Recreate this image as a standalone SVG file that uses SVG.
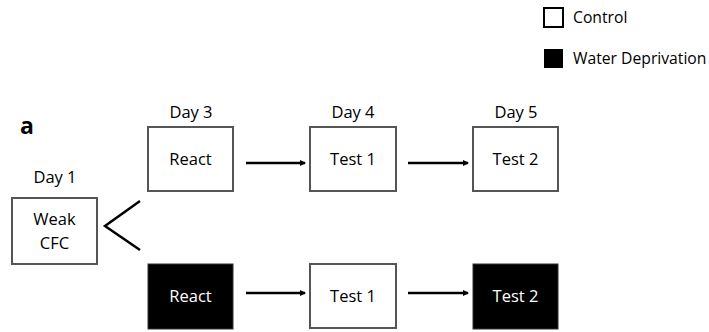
<svg xmlns="http://www.w3.org/2000/svg" width="709" height="332" viewBox="0 0 709 332">
  <defs>
    <marker id="arrow" viewBox="0 0 6 6" refX="5" refY="3" markerWidth="2.6" markerHeight="2.6" orient="auto">
      <path d="M0,0 L6,3 L0,6 z" fill="#000"/>
    </marker>
    <style>
      text { font-family: "Open Sans", "Liberation Sans", sans-serif; font-size: 16.5px; fill: #000; }
      .legend-label { font-size: 15.7px; }
      .ctl { fill: #fff; stroke: #555; stroke-width: 2; }
      .wd { fill: #000; stroke: #333; stroke-width: 1; }
      .wd-label { fill: #fff; }
      .mid { text-anchor: middle; }
      .conn { stroke: #000; stroke-width: 2.5; fill: none; }
    </style>
  </defs>
  <rect width="709" height="332" fill="#fff"/>

  <g id="legend">
    <rect x="544" y="8" width="19" height="19" fill="#fff" stroke="#000" stroke-width="2"/>
    <text class="legend-label" x="573" y="23">Control</text>
    <rect x="544" y="49" width="19" height="19" fill="#000"/>
    <text class="legend-label" x="573" y="64">Water Deprivation</text>
  </g>

  <text x="20" y="134" style="font-size:23px;font-weight:bold">a</text>

  <g id="day-labels">
    <text class="mid" x="55" y="183">Day 1</text>
    <text class="mid" x="191" y="118">Day 3</text>
    <text class="mid" x="353" y="118">Day 4</text>
    <text class="mid" x="516" y="118">Day 5</text>
  </g>

  <g id="weak-cfc">
    <rect class="ctl" x="12" y="198" width="85" height="66"/>
    <text class="mid" x="54.5" y="225">Weak</text>
    <text class="mid" x="54.5" y="249">CFC</text>
  </g>

  <g id="react-control">
    <rect class="ctl" x="148" y="127" width="85" height="64"/>
    <text class="mid" x="190.5" y="165">React</text>
  </g>
  <g id="test1-control">
    <rect class="ctl" x="310" y="127" width="86" height="64"/>
    <text class="mid" x="353" y="165">Test 1</text>
  </g>
  <g id="test2-control">
    <rect class="ctl" x="473" y="127" width="85" height="64"/>
    <text class="mid" x="515.5" y="165">Test 2</text>
  </g>

  <g id="react-wd">
    <rect class="wd" x="148" y="264" width="85" height="65"/>
    <text class="mid wd-label" x="190.5" y="302">React</text>
  </g>
  <g id="test1-wd">
    <rect class="ctl" x="310" y="264" width="86" height="64"/>
    <text class="mid" x="353" y="302">Test 1</text>
  </g>
  <g id="test2-wd">
    <rect class="wd" x="473" y="264" width="85" height="65"/>
    <text class="mid wd-label" x="515.5" y="302">Test 2</text>
  </g>

  <g id="connectors">
    <polyline class="conn" points="140,201 105,226 140,250"/>
    <line class="conn" x1="246" y1="163" x2="305" y2="163" marker-end="url(#arrow)"/>
    <line class="conn" x1="408" y1="163" x2="468" y2="163" marker-end="url(#arrow)"/>
    <line class="conn" x1="246" y1="293" x2="305" y2="293" marker-end="url(#arrow)"/>
    <line class="conn" x1="408" y1="293" x2="468" y2="293" marker-end="url(#arrow)"/>
  </g>
</svg>
